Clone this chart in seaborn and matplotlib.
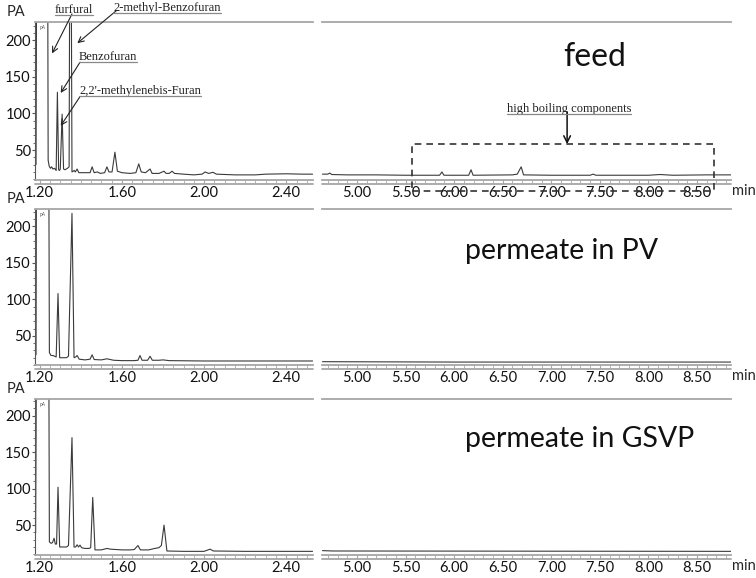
import matplotlib
matplotlib.use('Agg')
import matplotlib.pyplot as plt
import seaborn as sns
import numpy as np
import pandas as pd
from matplotlib.patches import Rectangle
from matplotlib.lines import Line2D
from matplotlib.transforms import ScaledTranslation

# ── Data ──────────────────────────────────────────────────────────────────────
samples = ['feed', 'permeate in PV', 'permeate in GSVP']

feed_left_t = [1.182, 1.186, 1.238, 1.241, 1.246, 1.252, 1.258, 1.264, 1.272, 1.280,
               1.286, 1.292, 1.296, 1.300, 1.309, 1.316, 1.323, 1.335, 1.343, 1.347,
               1.352, 1.357, 1.368, 1.373, 1.382, 1.390, 1.410, 1.445, 1.455, 1.465,
               1.480, 1.495, 1.516, 1.527, 1.537, 1.552, 1.566, 1.578, 1.600, 1.640,
               1.668, 1.682, 1.694, 1.715, 1.737, 1.747, 1.780, 1.805, 1.815, 1.830,
               1.844, 1.856, 1.900, 1.950, 1.990, 2.005, 2.022, 2.043, 2.060, 2.150,
               2.250, 2.300, 2.400, 2.480, 2.528]
feed_left_v = [30, 400, 400, 36, 28, 25, 27, 24, 25, 22,
               129, 23, 22, 24, 99, 24, 23, 25, 27, 400,
               400, 20, 22, 20, 24, 19, 19, 19, 27, 19,
               20, 18, 19, 27, 20, 20, 47, 21, 19, 18,
               19, 31, 20, 19, 24, 18, 18, 21, 18, 18,
               21, 18, 17, 16, 17, 20, 18, 19.5, 17, 16,
               16, 17, 17.5, 17, 17]
feed_right_t = [4.645, 4.700, 4.720, 4.740, 4.900, 5.200, 5.500, 5.850, 5.875, 5.895,
                6.150, 6.174, 6.195, 6.600, 6.650, 6.690, 6.715, 7.000, 7.400, 7.430,
                7.460, 8.000, 8.120, 8.250, 8.600, 8.850]
feed_right_v = [17, 17, 18.5, 16.5, 16, 16, 15.5, 15.5, 20, 15.5,
                15.5, 23, 15.5, 16, 17, 27, 16, 15.5, 15.5, 17,
                15.5, 15.5, 16.5, 15.5, 16, 16]

pv_left_t = [1.182, 1.185, 1.243, 1.247, 1.255, 1.265, 1.280, 1.289, 1.297, 1.310,
             1.330, 1.340, 1.357, 1.367, 1.375, 1.382, 1.392, 1.420, 1.445, 1.455,
             1.465, 1.500, 1.527, 1.560, 1.600, 1.660, 1.678, 1.688, 1.698, 1.725,
             1.737, 1.748, 1.780, 1.800, 1.830, 2.000, 2.528]
pv_left_v = [24, 400, 400, 27, 23, 23, 21, 108, 20, 20,
             20, 22, 218, 20, 21, 23, 18, 17, 18, 24,
             17.5, 17, 18.5, 16.5, 16, 16, 16.5, 23, 16.5, 16.5,
             22, 16.5, 16.5, 17, 16, 15.5, 15.5]
pv_right_t = [4.645, 6.000, 8.850]
pv_right_v = [16.5, 16, 16]

gsvp_left_t = [1.180, 1.186, 1.243, 1.247, 1.255, 1.262, 1.270, 1.276, 1.282, 1.289,
               1.297, 1.310, 1.330, 1.340, 1.357, 1.367, 1.375, 1.382, 1.389, 1.396,
               1.404, 1.420, 1.440, 1.448, 1.458, 1.469, 1.500, 1.527, 1.545, 1.600,
               1.640, 1.660, 1.678, 1.690, 1.730, 1.760, 1.780, 1.792, 1.805, 1.819,
               1.900, 2.000, 2.029, 2.045, 2.200, 2.528]
gsvp_left_v = [39, 400, 400, 27, 25, 26, 32, 24, 24, 102,
               20, 20, 20, 22, 170, 20, 20, 23, 20, 22.5,
               19, 18, 18, 19, 88, 16, 16, 18, 17, 16,
               16, 16.5, 22, 16, 16, 18, 19, 22, 50, 14.5,
               14, 14, 17, 14.5, 14, 14]
gsvp_right_t = [4.645, 4.750, 8.850]
gsvp_right_v = [15, 14.5, 14]

left_t = [feed_left_t, pv_left_t, gsvp_left_t]
left_v = [feed_left_v, pv_left_v, gsvp_left_v]
right_t = [feed_right_t, pv_right_t, gsvp_right_t]
right_v = [feed_right_v, pv_right_v, gsvp_right_v]

left_xticks = [1.20, 1.60, 2.00, 2.40]
left_xlabels = ['1.20', '1.60', '2.00', '2.40']
right_xticks = [5.00, 5.50, 6.00, 6.50, 7.00, 7.50, 8.00, 8.50]
right_xlabels = ['5.00', '5.50', '6.00', '6.50', '7.00', '7.50', '8.00', '8.50']
yticks = [50, 100, 150, 200]
row_ylims = [(9, 225), (12, 224), (9, 223)]

# peak labels on the feed trace: text, text pos (t, pA), arrow tail, arrow head
peak_names = ['furfural', '2-methyl-Benzofuran', 'Benzofuran', "2,2'-methylenebis-Furan"]
peak_text_xy = [(1.274, 237), (1.557, 240), (1.391, 173), (1.391, 126)]
peak_tail = [(1.357, 236), (1.575, 241), (1.396, 170), (1.396, 123)]
peak_head = [(1.260, 182), (1.383, 196), (1.302, 128), (1.302, 83)]

hb_box = (5.566, 8.677, -6, 58)   # t0, t1, pA low, pA high
hb_text_xy = (7.18, 102)
hb_arrow = ((7.163, 102), (7.163, 58))

# ── Style ─────────────────────────────────────────────────────────────────────
sns.set_theme(style='white')
plt.rcParams['font.family'] = ['Lato', 'DejaVu Sans']
TRACE = '#3a3a3a'
AXGRAY = '#a6a6a6'
W, H = 756, 578

fig = plt.figure(figsize=(W / 100, H / 100), dpi=100)

rows_px = [(22, 180), (209, 365), (399, 555)]
title_pos = [(0.59, 0.72), (0.35, 0.68), (0.35, 0.69)]
title_size = [23, 20.5, 20.5]

axes_left, axes_right = [], []
for i, (top, bot) in enumerate(rows_px):
    b = 1 - bot / H
    h = (bot - top) / H
    axl = fig.add_axes([35 / W, b, (313 - 35) / W, h])
    axr = fig.add_axes([322 / W, b, (731 - 322) / W, h])
    axes_left.append(axl)
    axes_right.append(axr)

    sns.lineplot(x=left_t[i], y=left_v[i], ax=axl, color=TRACE, lw=0.8,
                 estimator=None, sort=False)
    sns.lineplot(x=right_t[i], y=right_v[i], ax=axr, color=TRACE, lw=0.8,
                 estimator=None, sort=False)

    axl.set_xlim(1.177, 2.53)
    axr.set_xlim(4.64, 8.85)
    for ax in (axl, axr):
        ax.set_ylim(*row_ylims[i])
        ax.set_xlabel('')
        ax.set_ylabel('')
        ax.set_facecolor('white')
        for s in ('top', 'bottom'):
            ax.spines[s].set_color(AXGRAY)
            ax.spines[s].set_linewidth(1.3)
        ax.spines['right'].set_visible(False)
        off = ScaledTranslation(0, -3.2 / 72, fig.dpi_scale_trans)
        ax.plot([0, 1], [0, 0], transform=ax.transAxes + off, color=AXGRAY,
                lw=1.3, clip_on=False)
        ax.tick_params(axis='x', which='both', direction='out', colors=AXGRAY,
                       labelcolor='#111111', labelsize=10.5, pad=1.5,
                       bottom=True)
        ax.tick_params(axis='x', which='major', length=3, width=0.8)
        ax.tick_params(axis='x', which='minor', length=2, width=0.6)

    axl.set_xticks(left_xticks)
    axl.set_xticklabels(left_xlabels)
    axl.set_xticks(np.arange(1.20, 2.53, 0.05), minor=True)
    axr.set_xticks(right_xticks)
    axr.set_xticklabels(right_xlabels)
    axr.set_xticks(np.arange(4.7, 8.85, 0.1), minor=True)

    axl.spines['left'].set_color('#555555')
    axl.spines['left'].set_linewidth(0.8)
    axl.set_yticks(yticks)
    axl.set_yticks(np.arange(10, 225, 10), minor=True)
    axl.tick_params(axis='y', which='both', direction='out', left=True,
                    colors='#555555', labelcolor='#111111', labelsize=10.5, pad=0.5)
    axl.tick_params(axis='y', which='major', length=2.5, width=0.8)
    axl.tick_params(axis='y', which='minor', length=1.5, width=0.6)

    axr.spines['left'].set_visible(False)
    axr.set_yticks([])

    axl.annotate('PA', xy=(0, 1), xycoords='axes fraction', xytext=(-7, 2),
                 textcoords='offset points', ha='right', va='bottom', fontsize=10.5)
    axl.text(0.018, 0.965, 'pA', transform=axl.transAxes, fontsize=3.5,
             color='#555555', ha='left', va='center')
    axr.annotate('min', xy=(1, 0), xycoords='axes fraction', xytext=(1, -8),
                 textcoords='offset points', ha='left', va='center', fontsize=10.5)
    axr.text(title_pos[i][0], title_pos[i][1], samples[i], transform=axr.transAxes,
             ha='left', va='baseline', fontsize=title_size[i], color='#111111')

# ── Annotations on the feed trace ─────────────────────────────────────────────
ax0 = axes_left[0]
axr0 = axes_right[0]
arrow_kw = dict(arrowstyle='->', color='#222222', lw=0.8, mutation_scale=10,
                shrinkA=0, shrinkB=0)
label_texts = []
for name, txy, tail, head in zip(peak_names, peak_text_xy, peak_tail, peak_head):
    t = ax0.text(txy[0], txy[1], name, family='Liberation Serif', fontsize=9,
                 ha='left', va='baseline', clip_on=False, color='#222222')
    label_texts.append((t, ax0, txy))
    ax0.annotate('', xy=head, xytext=tail, arrowprops=arrow_kw,
                 annotation_clip=False)

t = axr0.text(hb_text_xy[0], hb_text_xy[1], 'high boiling components',
              family='Liberation Serif', fontsize=9, ha='center', va='baseline',
              clip_on=False, color='#222222')
label_texts.append((t, axr0, hb_text_xy))
axr0.annotate('', xy=hb_arrow[1], xytext=hb_arrow[0],
              arrowprops=dict(arrowstyle='->', color='#111111', lw=1.1,
                              mutation_scale=12, shrinkA=0, shrinkB=0),
              annotation_clip=False)
axr0.add_patch(Rectangle((hb_box[0], hb_box[2]), hb_box[1] - hb_box[0],
                         hb_box[3] - hb_box[2], fill=False, ls=(0, (4, 3)),
                         lw=1.2, ec='#333333', clip_on=False, zorder=5))

# underline the serif labels
fig.canvas.draw()
renderer = fig.canvas.get_renderer()
for t, ax, xy in label_texts:
    bb = t.get_window_extent(renderer)
    base = ax.transData.transform(xy)[1] - 2
    fig.add_artist(Line2D([bb.x0 / W, bb.x1 / W], [base / H, base / H],
                          transform=fig.transFigure, color='#888888', lw=0.9))

plt.savefig('out.png', dpi=100)
plt.close()
